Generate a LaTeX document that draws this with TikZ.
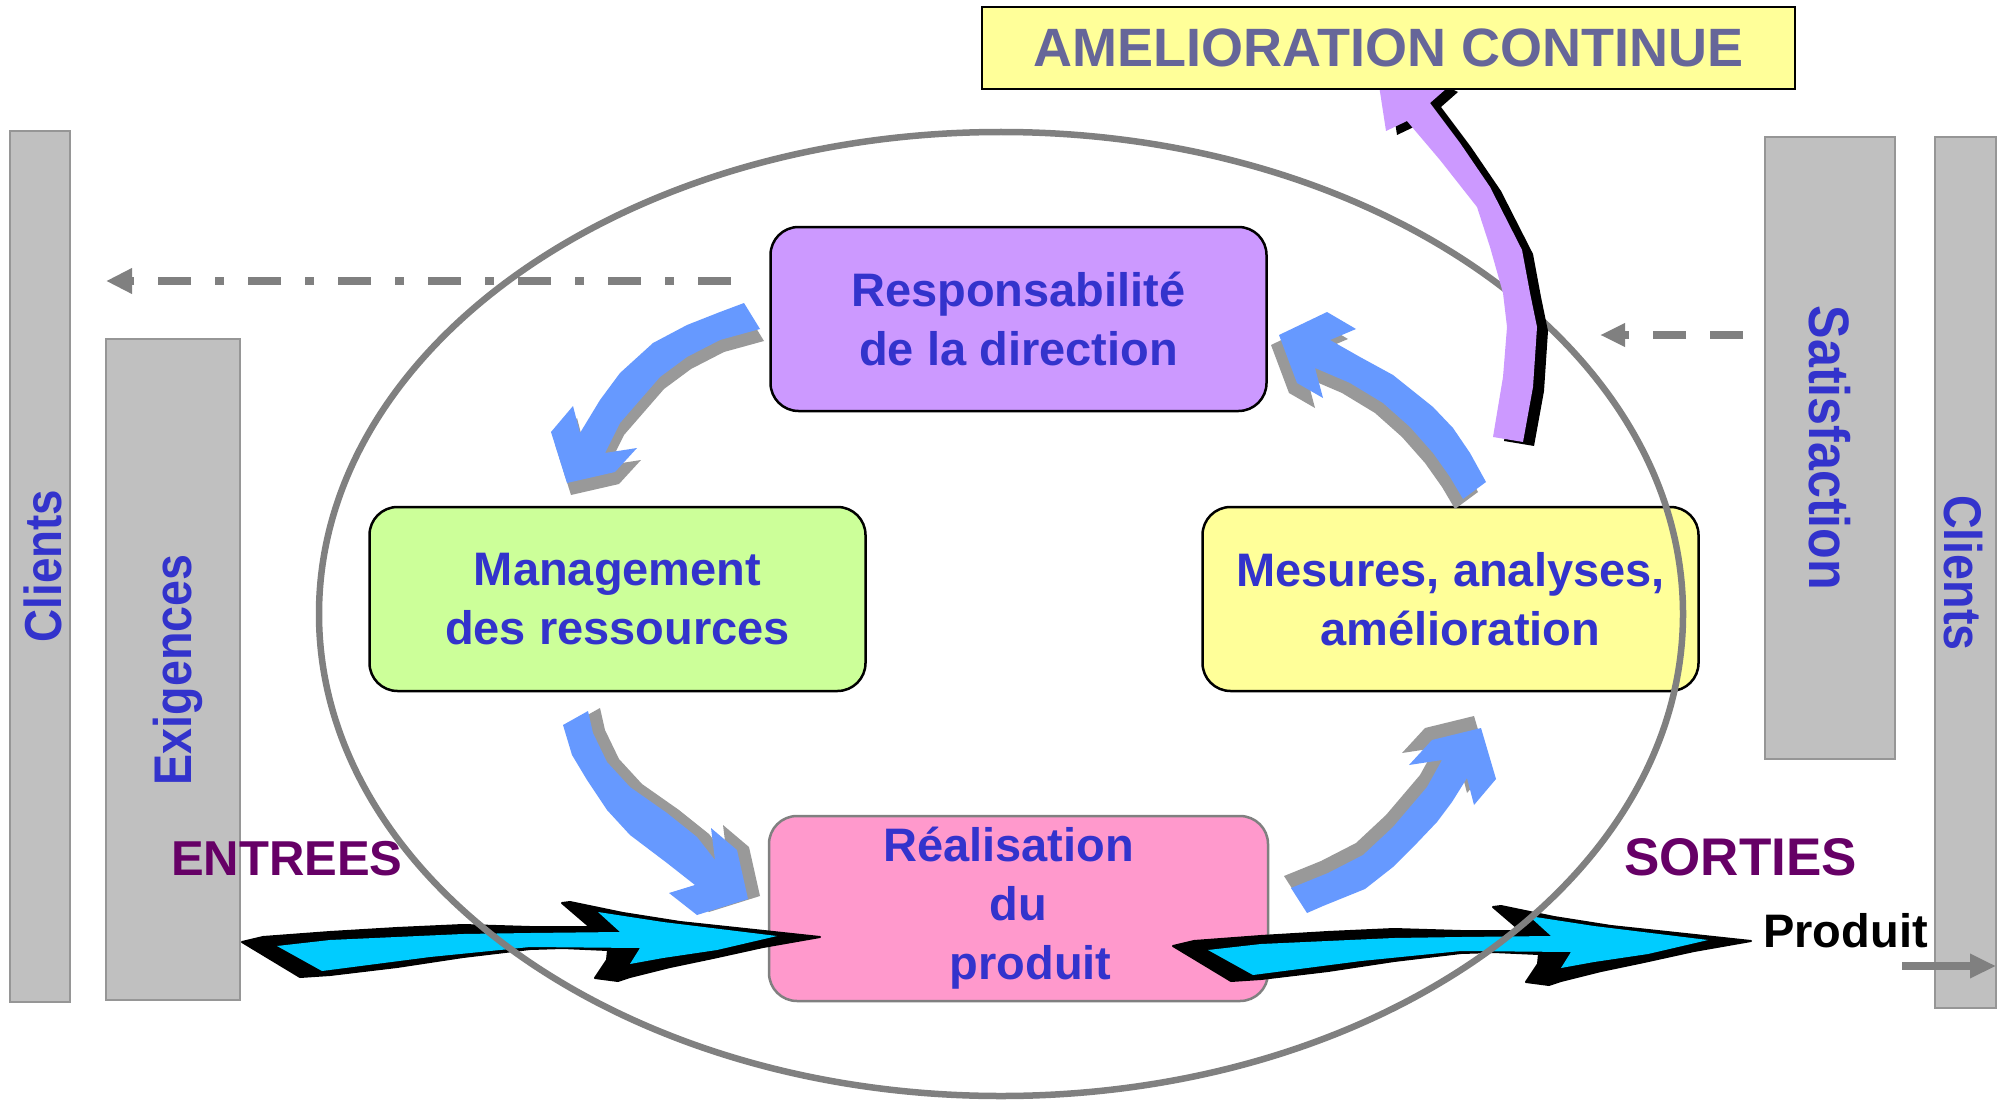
\documentclass[tikz,border=0pt]{standalone}
\usepackage{fontspec}
\setmainfont{Liberation Sans}
\newfontfamily\sidefont[FakeStretch=0.88]{Liberation Sans}
\usetikzlibrary{arrows.meta,shapes.geometric}
\definecolor{txtblue}{HTML}{3333CC}
\definecolor{ameltxt}{HTML}{666699}
\definecolor{iocolor}{HTML}{660066}
\definecolor{barfill}{HTML}{C0C0C0}
\definecolor{barborder}{HTML}{969696}
\definecolor{respfill}{HTML}{CC99FF}
\definecolor{mgmtfill}{HTML}{CCFF99}
\definecolor{mesfill}{HTML}{FFFF99}
\definecolor{realfill}{HTML}{FF99CC}
\definecolor{arrowblue}{HTML}{6699FF}
\definecolor{shadowgray}{HTML}{999999}
\definecolor{cyanarrow}{HTML}{00CCFF}
\definecolor{ringgray}{HTML}{808080}
\definecolor{purplearrow}{HTML}{CC99FF}
\newcommand{\blueArrow}[2]{%
  \fill[shadowgray,shift={#2}] #1;
  \fill[arrowblue] #1;}
\newcommand{\cyanArrow}[1]{%
  \begin{scope}[shift={#1}]
  \filldraw[black,line width=2pt,line join=round]
    (242,942) -- (263,937) -- (330,932) -- (397,928) -- (463,925) -- (530,927) -- (590,927)
    -- (562,903) -- (570,902) -- (623,913) -- (680,922) -- (820,937) -- (763,947) -- (713,958)
    -- (670,967) -- (630,977) -- (618,981) -- (595,978) -- (607,960) -- (608,950) -- (563,948)
    -- (530,949) -- (463,957) -- (397,967) -- (330,975) -- (300,977) -- cycle;
  \fill[cyanarrow]
    (277,946) -- (330,940) -- (463,934) -- (530,933) -- (620,932) -- (598,912) -- (663,922)
    -- (777,936) -- (717,950) -- (663,958) -- (630,964) -- (640,948) -- (530,947) -- (430,957)
    -- (322,971) -- cycle;
  \end{scope}}
\begin{document}
\begin{tikzpicture}[x=1pt,y=-1pt,
  bar/.style={draw=barborder, fill=barfill, line width=2pt, inner sep=0pt},
  sidetext/.style={text=txtblue, inner sep=0pt, anchor=base},
  box/.style={draw=black, line width=2.5pt, rounded corners=28pt, align=center, text=txtblue,
    inner sep=0pt, minimum width=496pt, minimum height=184pt,
    font=\bfseries\fontsize{47}{59}\selectfont},
  ring/.style={draw=ringgray, line width=6.5pt, ellipse, inner sep=0pt},
  iolabel/.style={text=iocolor, font=\bfseries\fontsize{49}{56}\selectfont, inner sep=0pt, anchor=base west},
  dashdotline/.style={draw=ringgray, line width=7.5pt, dash pattern=on 33pt off 24pt on 9pt off 24pt,
    -{Triangle[length=26pt,width=24pt]}},
  dashline/.style={draw=ringgray, line width=7.5pt, dash pattern=on 33pt off 24pt,
    -{Triangle[length=25pt,width=22pt]}},
  outarrow/.style={draw=ringgray, line width=8pt, -{Triangle[length=26pt,width=23pt]}}]
\useasboundingbox (0,0) rectangle (2004,1102);
\fill[white] (0,0) rectangle (2004,1102);

% side bars
\node[bar, minimum width=60pt, minimum height=871pt] (clientsL) at (40,566.5) {};
\node[bar, minimum width=134pt, minimum height=661pt] (exig) at (173,669.5) {};
\node[bar, minimum width=130pt, minimum height=622pt] (satis) at (1830,448) {};
\node[bar, minimum width=61pt, minimum height=871pt] (clientsR) at (1965.5,572.5) {};
\node[sidetext, rotate=90, font=\sidefont\bfseries\fontsize{52}{60}\selectfont] (clientsLt) at (61,566) {Clients};
\node[sidetext, rotate=90, font=\sidefont\bfseries\fontsize{53}{60}\selectfont] (exigt) at (191,670) {Exigences};
\node[sidetext, rotate=-90, font=\sidefont\bfseries\fontsize{57}{60}\selectfont] (satist) at (1809,448) {Satisfaction};
\node[sidetext, rotate=-90, font=\sidefont\bfseries\fontsize{53}{60}\selectfont] (clientsRt) at (1944,573) {Clients};

% process boxes
\node[box, fill=respfill] (resp) at (1018.5,319) {Responsabilité\\de la direction};
\node[box, fill=mgmtfill] (mgmt) at (617.5,599) {Management\\des ressources};
\node[box, fill=mesfill] (mes) at (1450.5,599) {Mesures, analyses,\\\hspace*{20pt}amélioration};
\node[box, fill=realfill, draw=ringgray, minimum width=499pt, minimum height=185pt] (real) at (1018.5,908.5)
  {Réalisation\hspace*{20pt}\\du\\\hspace*{24pt}produit};

% big input / output arrows
\cyanArrow{(0,0)}
\cyanArrow{(931,4)}

% cycle arrows
\blueArrow{(744,303) -- (760,329) -- (720,340) -- (687,357) -- (660,377) -- (640,400) -- (620,423)
  -- (605,453) -- (637,448) -- (615,472) -- (567,483) -- (551,432) -- (573,406) -- (580,433)
  -- (600,400) -- (620,373) -- (653,343) -- (687,325) -- (720,312) -- cycle}{(4,12)}
\blueArrow{(563,725) -- (588,711) -- (593,733) -- (607,762) -- (630,787) -- (667,813) -- (697,837)
  -- (715,860) -- (711,828) -- (737,850) -- (748,899) -- (697,915) -- (669,893) -- (695,885)
  -- (667,863) -- (630,835) -- (607,810) -- (587,780) -- (572,755) -- cycle}{(12,-3)}
\blueArrow{(1291,888) -- (1307,913) -- (1323,906) -- (1365,889) -- (1393,867) -- (1417,843)
  -- (1437,822) -- (1452,802) -- (1467,778) -- (1474,805) -- (1496,779) -- (1481,728)
  -- (1432,740) -- (1409,765) -- (1442,760) -- (1427,787) -- (1410,807) -- (1393,827)
  -- (1363,855) -- (1328,873) -- cycle}{(-7,-12)}
\blueArrow{(1486,482) -- (1463,499) -- (1450,477) -- (1433,453) -- (1410,427) -- (1383,403)
  -- (1350,383) -- (1315,368) -- (1323,398) -- (1297,383) -- (1279,335) -- (1327,312)
  -- (1356,329) -- (1330,340) -- (1360,357) -- (1393,375) -- (1433,407) -- (1453,428)
  -- (1470,453) -- cycle}{(-8,10)}

% ring
\node[ring, minimum width=1364pt, minimum height=964pt] (cycle) at (1001,614) {};

% improvement arrow
\begin{scope}[shift={(11,4)}]
\fill[black] (1386,131) -- (1407,121) -- (1412,127) -- (1440,160) -- (1477,207) -- (1490,247)
  -- (1503,293) -- (1507,327) -- (1503,377) -- (1493,437) -- (1523,442) -- (1533,387)
  -- (1537,327) -- (1530,293) -- (1522,250) -- (1490,187) -- (1460,143) -- (1430,103)
  -- (1447,88) -- (1374,53) -- cycle;
\end{scope}
\fill[purplearrow] (1386,131) -- (1407,121) -- (1412,127) -- (1440,160) -- (1477,207) -- (1490,247)
  -- (1503,293) -- (1507,327) -- (1503,377) -- (1493,437) -- (1523,442) -- (1533,387)
  -- (1537,327) -- (1530,293) -- (1522,250) -- (1490,187) -- (1460,143) -- (1430,103)
  -- (1447,88) -- (1374,53) -- cycle;
\node[draw=black, line width=2.5pt, fill=mesfill, minimum width=813pt, minimum height=82pt,
  inner sep=0pt, text=ameltxt, font=\bfseries\fontsize{54}{60}\selectfont] (amel) at (1388.5,48)
  {AMELIORATION CONTINUE};

% feedback arrows
\coordinate (ddS) at (731,281);
\coordinate (ddE) at (106,281);
\draw[dashdotline] (ddS) -- (ddE);
\coordinate (dsS) at (1743,335);
\coordinate (dsE) at (1600,335);
\draw[dashline] (dsS) -- (dsE);
\coordinate (paS) at (1902,966);
\coordinate (paE) at (1996,966);
\draw[outarrow] (paS) -- (paE);

% labels
\node[iolabel] (entrees) at (171,875) {ENTREES};
\node[iolabel, font=\bfseries\fontsize{53}{56}\selectfont] (sorties) at (1624,875) {SORTIES};
\node[inner sep=0pt, anchor=base west, font=\bfseries\fontsize{47}{56}\selectfont] (produit) at (1763,947) {Produit};
\end{tikzpicture}
\end{document}
